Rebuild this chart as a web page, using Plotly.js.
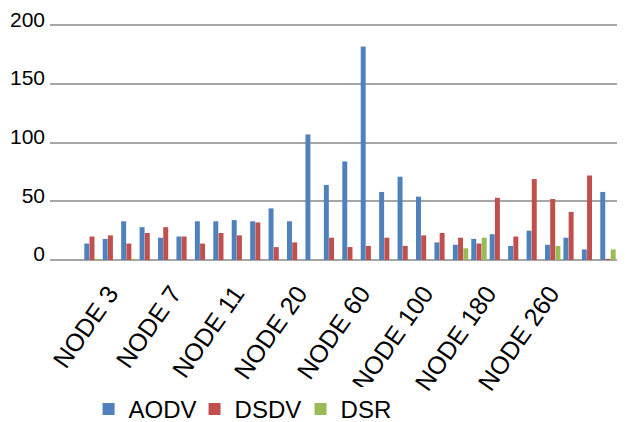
<!DOCTYPE html>
<html>
<head>
<meta charset="utf-8">
<script src="https://cdn.plot.ly/plotly-3.0.1.min.js"></script>
<style>html,body{margin:0;padding:0;background:#fff;}#chart{width:642px;height:422px;}</style>
</head>
<body>
<div id="chart"></div>
<script>
// Tick labels shown under the chart
var nodeLabels = ["NODE 3", "NODE 7", "NODE 11", "NODE 20", "NODE 60", "NODE 100", "NODE 180", "NODE 260"];
// Series values (one value per bar group, left to right)
var aodv = [14, 18, 33, 28, 19, 20, 33, 33, 34, 33, 44, 33, 107, 64, 84, 182, 58, 71, 54, 15, 13, 18, 22, 12, 25, 13, 19, 9, 58];
var dsdv = [20, 21, 14, 23, 28, 20, 14, 23, 21, 32, 11, 15, 0, 19, 11, 12, 19, 12, 21, 23, 19, 14, 53, 20, 69, 52, 41, 72, 1];
var dsr  = [1, 0, 1, 0, 0, 0, 0, 0, 0, 0, 0, 0, 0, 0, 0, 0, 0, 0, 0, 0, 10, 19, 0, 0, 0, 12, 0, 0, 9];
var yTicks = [0, 50, 100, 150, 200];

var groups = aodv.map(function (_, i) { return i; });
var FONT = "Liberation Sans, Arial, sans-serif";

var traces = [
  {type: "bar", name: "AODV", x: groups, y: aodv, marker: {color: "#4F81BD"}, xaxis: "x", yaxis: "y"},
  {type: "bar", name: "DSDV", x: groups, y: dsdv, marker: {color: "#C0504D"}, xaxis: "x", yaxis: "y"},
  {type: "bar", name: "DSR",  x: groups, y: dsr,  marker: {color: "#9BBB59"}, xaxis: "x", yaxis: "y"},
  {type: "scatter", mode: "markers", x: nodeLabels, y: nodeLabels.map(function () { return null; }),
   xaxis: "x2", yaxis: "y", showlegend: false, hoverinfo: "skip"}
];

var layout = {
  width: 642, height: 422,
  margin: {l: 50, r: 25, t: 23, b: 162, autoexpand: false},
  paper_bgcolor: "#ffffff", plot_bgcolor: "#ffffff",
  font: {family: FONT, color: "#000000", size: 21},
  barmode: "group", bargap: 0.15, bargroupgap: 0.05,
  showlegend: true,
  legend: {orientation: "h", x: 0.068, xanchor: "left", y: -0.535, yanchor: "top",
           font: {family: FONT, size: 24, color: "#000"}, itemwidth: 30,
           entrywidth: 61, entrywidthmode: "pixels"},
  xaxis: {type: "linear", range: [-2.28, 28.49], showticklabels: false, showgrid: false,
          zeroline: false, showline: false, ticks: "", automargin: false},
  xaxis2: {type: "category", overlaying: "x", side: "bottom", anchor: "y",
           categoryorder: "array", categoryarray: nodeLabels, range: [-0.94, 8.06],
           tickangle: -55, showgrid: false, zeroline: false, showline: false, ticks: "",
           automargin: false, ticklabelstandoff: 13,
           tickfont: {family: FONT, size: 25, color: "#000"}},
  yaxis: {range: [0, 202], tickvals: yTicks, ticktext: yTicks.map(String),
          showgrid: true, gridcolor: "#a6a6a6", gridwidth: 2,
          zeroline: true, zerolinecolor: "#a6a6a6", zerolinewidth: 2,
          showline: false, ticks: "", ticklabelstandoff: 4, ticklabelshift: -6, automargin: false,
          tickfont: {family: FONT, size: 21, color: "#000"}}
};

Plotly.newPlot("chart", traces, layout, {displayModeBar: false, staticPlot: true});
</script>
</body>
</html>
